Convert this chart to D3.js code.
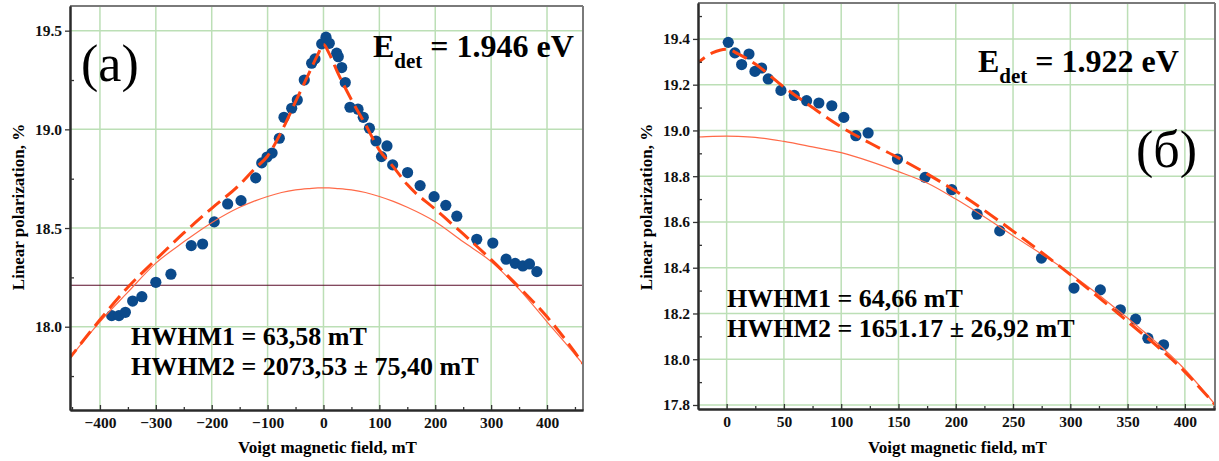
<!DOCTYPE html>
<html>
<head>
<meta charset="utf-8">
<script src="https://cdn.jsdelivr.net/npm/d3@7"></script>
<style>
  body { margin: 0; background: #fff; }
  svg text { font-family: "Liberation Serif", "Times New Roman", serif; }
</style>
</head>
<body>
<svg id="chart" width="1219" height="461"></svg>
<script>
// panel (a): measured points
var leftField = [-379, -366, -354.5, -341.5, -325, -300, -273, -236.6, -216.3, -195.5,
    -171.5, -147.6, -121.3, -110.5, -101, -92, -79, -70.7, -56.9, -46.9,
    -34.4, -21.2, -15.2, -3.2, 4.5, 10.4, 23.6, 26.5, 32.6, 39,
    47.4, 61.8, 71.2, 82.2, 93.9, 103.8, 113.6, 123.8, 150.5, 172.9,
    197.9, 218.9, 238.6, 274.3, 303, 326.8, 343, 356.7, 368.6, 381.8];
var leftPol = [18.056, 18.056, 18.073, 18.130, 18.152, 18.225, 18.266, 18.411, 18.419, 18.531,
    18.622, 18.639, 18.754, 18.830, 18.860, 18.880, 18.955, 19.061, 19.107, 19.149,
    19.250, 19.335, 19.357, 19.433, 19.467, 19.436, 19.386, 19.368, 19.313, 19.237,
    19.112, 19.102, 19.061, 19.006, 18.941, 18.862, 18.916, 18.820, 18.781, 18.715,
    18.659, 18.615, 18.560, 18.443, 18.424, 18.342, 18.321, 18.308, 18.318, 18.279];

// panel (a): fit curves
var leftFitX = [-460, -400, -350, -300, -250, -200, -150, -125, -100, -75, -50, -25, -10, 0,
    10, 25, 50, 75, 100, 125, 150, 200, 250, 300, 350, 400, 450, 470];
var leftFitTotal = [17.82, 18.035, 18.20, 18.34, 18.475, 18.60, 18.72, 18.795, 18.865, 18.99, 19.14, 19.29, 19.38, 19.43,
    19.385, 19.29, 19.15, 19.025, 18.895, 18.81, 18.72, 18.595, 18.47, 18.34, 18.20, 18.05, 17.87, 17.79];
var leftFitBroad = [17.82, 18.025, 18.175, 18.322, 18.43, 18.527, 18.605, 18.635, 18.66, 18.68, 18.693, 18.70, 18.703, 18.703,
    18.703, 18.70, 18.693, 18.68, 18.66, 18.635, 18.605, 18.532, 18.43, 18.33, 18.19, 18.025, 17.86, 17.79];
var leftLevel = 18.21;

// panel (б): measured points
var rightField = [1.4, 7.2, 13.1, 19.5, 24.7, 30.5, 36.3, 47.4, 59, 69.8, 80.5, 91.8, 102.3, 112.8,
    123.5, 149.1, 173.2, 196.5, 218.6, 238.4, 274.8, 303.2, 326.2, 343.7, 357, 367.7, 381.4];
var rightPol = [19.385, 19.339, 19.288, 19.334, 19.258, 19.273, 19.225, 19.175, 19.153, 19.130, 19.120, 19.108, 19.057, 18.977,
    18.989, 18.875, 18.795, 18.741, 18.634, 18.561, 18.442, 18.311, 18.303, 18.216, 18.175, 18.092, 18.063];

// panel (б): fit curves
var rightFitX = [-30, -12, 0, 10, 25, 50, 75, 100, 125, 150, 175, 200, 250, 300, 350, 400, 430];
var rightFitTotal = [19.275, 19.34, 19.355, 19.335, 19.29, 19.19, 19.10, 19.015, 18.945, 18.88, 18.81, 18.735, 18.56, 18.37, 18.165, 17.945, 17.78];
var rightFitBroad = [18.97, 18.974, 18.975, 18.974, 18.97, 18.952, 18.928, 18.903, 18.865, 18.82, 18.77, 18.70, 18.54, 18.375, 18.18, 17.955, 17.78];

var leftXTicks = [-400, -300, -200, -100, 0, 100, 200, 300, 400];
var leftXMinor = [-450, -350, -250, -150, -50, 50, 150, 250, 350, 450];
var leftYTicks = [18, 18.5, 19, 19.5];
var leftYMinor = [17.75, 18.25, 18.75, 19.25];
var rightXTicks = [0, 50, 100, 150, 200, 250, 300, 350, 400];
var rightXMinor = [25, 75, 125, 175, 225, 275, 325, 375, 425];
var rightYTicks = [17.8, 18, 18.2, 18.4, 18.6, 18.8, 19, 19.2, 19.4];
var rightYMinor = [17.9, 18.1, 18.3, 18.5, 18.7, 18.9, 19.1, 19.3, 19.5];

var svg = d3.select('#chart');

function drawPanel(p) {
    var x = d3.scaleLinear().domain(p.xDomain).range([p.left, p.right]),
        y = d3.scaleLinear().domain(p.yDomain).range([p.bottom, p.top]),
        g = svg.append('g');

    g.append('clipPath').attr('id', p.id + '-clip')
        .append('rect')
        .attr('x', p.left).attr('y', p.top)
        .attr('width', p.right - p.left).attr('height', p.bottom - p.top);

    /* grid */
    g.selectAll('.vgrid').data(p.xTicks).enter().append('line')
        .attr('x1', function(d) { return x(d); }).attr('x2', function(d) { return x(d); })
        .attr('y1', p.top).attr('y2', p.bottom)
        .attr('stroke', '#bcdfb6').attr('stroke-width', 1.5);
    g.selectAll('.hgrid').data(p.yTicks).enter().append('line')
        .attr('y1', function(d) { return y(d); }).attr('y2', function(d) { return y(d); })
        .attr('x1', p.left).attr('x2', p.right)
        .attr('stroke', '#bcdfb6').attr('stroke-width', 1.5);

    var plot = g.append('g').attr('clip-path', 'url(#' + p.id + '-clip)');

    if (p.level !== undefined) {
        plot.append('line')
            .attr('x1', p.left).attr('x2', p.right)
            .attr('y1', y(p.level)).attr('y2', y(p.level))
            .attr('stroke', '#5a0c28').attr('stroke-width', 1.2);
    }

    /* points */
    plot.selectAll('circle').data(p.field).enter().append('circle')
        .attr('cx', function(d) { return x(d); })
        .attr('cy', function(d, i) { return y(p.pol[i]); })
        .attr('r', 5.6)
        .attr('fill', '#0b4a8b');

    var line = function(vals) {
        return d3.line()
            .x(function(d) { return x(d); })
            .y(function(d, i) { return y(vals[i]); })
            .curve(d3.curveMonotoneX)(p.fitX);
    };

    plot.append('path').attr('d', line(p.fitBroad))
        .attr('fill', 'none').attr('stroke', '#ff6a48').attr('stroke-width', 1.2);
    plot.append('path').attr('d', line(p.fitTotal))
        .attr('fill', 'none').attr('stroke', '#ff4512').attr('stroke-width', 3)
        .attr('stroke-dasharray', '16,7');

    /* frame */
    g.append('line').attr('x1', p.left).attr('x2', p.right).attr('y1', p.top).attr('y2', p.top)
        .attr('stroke', '#7a7a7a').attr('stroke-width', 2);
    g.append('line').attr('x1', p.right).attr('x2', p.right).attr('y1', p.top).attr('y2', p.bottom)
        .attr('stroke', '#7a7a7a').attr('stroke-width', 2);

    /* axes */
    var xAxis = g.append('g').attr('transform', 'translate(0,' + p.bottom + ')')
        .call(d3.axisBottom(x).tickValues(p.xTicks).tickSize(-5).tickPadding(7).tickSizeOuter(0));
    g.append('g').attr('transform', 'translate(0,' + p.bottom + ')')
        .call(d3.axisBottom(x).tickValues(p.xMinor).tickSize(-3).tickFormat('').tickSizeOuter(0));
    var yAxis = g.append('g').attr('transform', 'translate(' + p.left + ',0)')
        .call(d3.axisLeft(y).tickValues(p.yTicks).tickSize(5).tickPadding(3).tickSizeOuter(0));
    g.append('g').attr('transform', 'translate(' + p.left + ',0)')
        .call(d3.axisLeft(y).tickValues(p.yMinor).tickSize(-4).tickFormat('').tickSizeOuter(0));

    g.selectAll('.domain').attr('stroke', '#2a2a2a').attr('stroke-width', 2);
    g.selectAll('.tick line').attr('stroke', '#333').attr('stroke-width', 1.3);
    g.selectAll('.tick text')
        .attr('font-family', '"Liberation Serif", serif')
        .attr('font-weight', 'bold')
        .attr('font-size', 15.5)
        .attr('fill', '#111');

    /* titles */
    g.append('text')
        .attr('x', (p.left + p.right) / 2 + 1).attr('y', 453)
        .attr('text-anchor', 'middle')
        .attr('font-weight', 'bold').attr('font-size', 17)
        .text('Voigt magnetic field, mT');
    g.append('text')
        .attr('transform', 'translate(' + p.yTitleX + ',207) rotate(-90)')
        .attr('text-anchor', 'middle')
        .attr('font-weight', 'bold').attr('font-size', 17)
        .text('Linear polarization, %');

    /* annotations */
    var e = g.append('text')
        .attr('x', p.eX).attr('y', p.eY)
        .attr('font-weight', 'bold').attr('font-size', 32);
    e.append('tspan').text('E');
    e.append('tspan').attr('dy', 11).attr('font-size', 21).text('det');
    e.append('tspan').attr('dy', -11).text(' = ' + p.energy);

    g.append('text')
        .attr('x', p.labelX).attr('y', p.labelY)
        .attr('font-size', 52)
        .text(p.label);

    g.append('text')
        .attr('x', p.hwX).attr('y', p.hwY)
        .attr('font-weight', 'bold').attr('font-size', 26)
        .text(p.hw1);
    g.append('text')
        .attr('x', p.hwX).attr('y', p.hwY + 30)
        .attr('font-weight', 'bold').attr('font-size', 26)
        .text(p.hw2);
}

drawPanel({
    id: 'a', left: 70, right: 583, top: 6, bottom: 410,
    xDomain: [-453.6, 464.4], yDomain: [17.578, 19.625],
    xTicks: leftXTicks, xMinor: leftXMinor, yTicks: leftYTicks, yMinor: leftYMinor,
    field: leftField, pol: leftPol,
    fitX: leftFitX, fitTotal: leftFitTotal, fitBroad: leftFitBroad,
    level: leftLevel,
    yTitleX: 24,
    eX: 373, eY: 57, energy: '1.946 eV',
    label: '(a)', labelX: 81, labelY: 81,
    hwX: 131, hwY: 345,
    hw1: 'HWHM1 = 63,58 mT', hw2: 'HWHM2 = 2073,53 \u00b1 75,40 mT'
});

drawPanel({
    id: 'b', left: 698, right: 1215, top: 3, bottom: 409,
    xDomain: [-25, 426.3], yDomain: [17.7825, 19.557],
    xTicks: rightXTicks, xMinor: rightXMinor, yTicks: rightYTicks, yMinor: rightYMinor,
    field: rightField, pol: rightPol,
    fitX: rightFitX, fitTotal: rightFitTotal, fitBroad: rightFitBroad,
    yTitleX: 652,
    eX: 978, eY: 72, energy: '1.922 eV',
    label: '(\u0431)', labelX: 1136, labelY: 167,
    hwX: 727, hwY: 307,
    hw1: 'HWHM1 = 64,66 mT', hw2: 'HWHM2 = 1651.17 \u00b1 26,92 mT'
});
</script>
</body>
</html>
